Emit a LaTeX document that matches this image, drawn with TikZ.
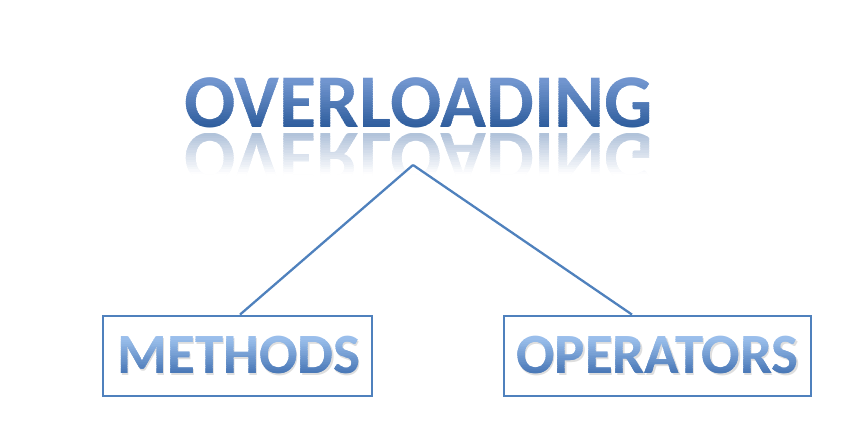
\documentclass[tikz,border=0pt]{standalone}
\usepackage{fontspec}
\setmainfont{Carlito}
\usetikzlibrary{calc}
\definecolor{boxblue}{HTML}{4F81BD}
\definecolor{titletop}{HTML}{7397D0}
\definecolor{titlebot}{HTML}{2C5B9B}
\definecolor{smalltop}{HTML}{9CC0EC}
\definecolor{smallbot}{HTML}{4574B4}
\tikzset{
  titletext/.style={font=\bfseries\fontsize{76}{80}\selectfont, inner sep=0pt, anchor=base},
  smalltext/.style={font=\bfseries\fontsize{57}{60}\selectfont, inner sep=0pt, anchor=base},
  labelbox/.style={draw=boxblue, line width=2.8pt, minimum height=80pt, inner sep=0pt},
  connector/.style={draw=boxblue, line width=2.3pt}
}
% #1 style, #2 name prefix, #3 position, #4 text, #5 y bottom, #6 y top, #7 top colour, #8 bottom colour
\newcommand{\stripetext}[8]{%
  \foreach \i in {0,...,19}{%
    \pgfmathsetmacro\ya{#5+(#6-#5)*\i/20}%
    \pgfmathsetmacro\yb{#5+(#6-#5)*(\i+1)/20+0.4}%
    \pgfmathsetmacro\pct{100*(\i+0.5)/20}%
    \ifnum\i=0 \pgfmathsetmacro\ya{#5-20}\fi
    \ifnum\i=19 \pgfmathsetmacro\yb{#6+20}\fi
    \begin{scope}
      \clip (0,\ya) rectangle (851,\yb);
      \node[#1, text=#7!\pct!#8] (#2\i) at #3 {#4};
    \end{scope}
  }%
}
\begin{document}
\begin{tikzpicture}[x=1pt,y=1pt]
\useasboundingbox (0,0) rectangle (851,446);
% title with vertical gradient
\stripetext{titletext}{title}{(419,318)}{OVERLOADING}{318}{366}{titletop}{titlebot}
% reflection, fading to white
\foreach \i in {0,...,19}{%
  \pgfmathsetmacro\ya{312-48*(\i+1)/20-0.4}%
  \pgfmathsetmacro\yb{312-48*\i/20}%
  \pgfmathsetmacro\pct{max(0,38*(1-(\i+0.5)/17))}%
  \begin{scope}
    \clip (0,\ya) rectangle (851,\yb);
    \begin{scope}[shift={(419,312)}, yscale=-1]
      \node[titletext, text=titlebot!\pct!white, transform shape] (refl\i) at (0,0) {OVERLOADING};
    \end{scope}
  \end{scope}
}
% apex of the connectors
\coordinate (top) at (413,281);
% boxes
\node[labelbox, minimum width=269pt] (mbox) at (237.5,90) {};
\node[labelbox, minimum width=307pt] (obox) at (657.5,90) {};
% soft shadows of the labels
\node[smalltext, text=black!13] (mshadow) at (240.3,70.5) {METHODS};
\node[smalltext, text=black!13] (oshadow) at (658.8,70.5) {OPERATORS};
% labels with vertical gradient
\stripetext{smalltext}{mtext}{(239,72)}{METHODS}{72}{108}{smalltop}{smallbot}
\stripetext{smalltext}{otext}{(657.5,72)}{OPERATORS}{72}{108}{smalltop}{smallbot}
% connectors
\draw[connector] (top) -- ([xshift=2.5pt]mbox.north);
\draw[connector] (top) -- ([xshift=-25.5pt]obox.north);
\end{tikzpicture}
\end{document}
